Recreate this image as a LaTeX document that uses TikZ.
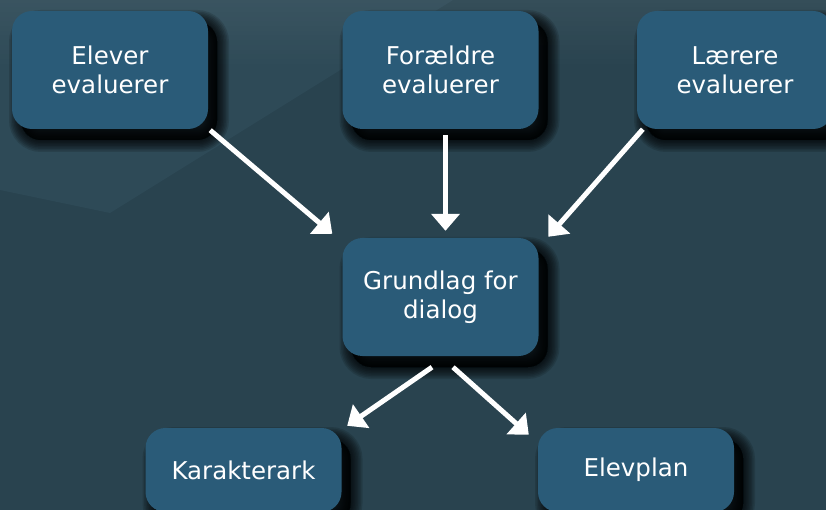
\documentclass[tikz,border=0pt]{standalone}
\usepackage{fontspec}
\setmainfont{DejaVu Sans}
\usetikzlibrary{arrows.meta,fadings}
\definecolor{bg}{HTML}{29434F}
\definecolor{bglight}{HTML}{2E4A57}
\definecolor{boxfill}{HTML}{2A5B78}
\begin{document}
\begin{tikzpicture}[x=1pt,y=-1pt,
  shadowlayer/.style={preaction={draw=black, fill=black, draw opacity=0.13, fill opacity=0.13,
      line width=#1, transform canvas={xshift=9pt,yshift=-11pt}}},
  box/.style={fill=boxfill, rounded corners=20pt, minimum width=196pt, minimum height=118pt,
    align=center, text=white, inner sep=0pt, font=\fontsize{24.5}{29.5}\selectfont,
    shadowlayer=24pt, shadowlayer=21pt, shadowlayer=18pt, shadowlayer=15pt,
    shadowlayer=12pt, shadowlayer=9pt, shadowlayer=6pt, shadowlayer=3pt, shadowlayer=0.1pt},
  arr/.style={draw=white, line width=5pt, -{Triangle[length=17pt,width=28pt]}}]
\useasboundingbox (0,0) rectangle (826,510);
\clip (0,0) rectangle (826,510);
% background
\fill[bg] (0,0) rectangle (826,510);
\fill[bglight] (0,0) -- (453,0) -- (110,213) -- (0,190) -- cycle;
\fill[white, opacity=0.06, path fading=south] (0,0) rectangle (826,70);
% boxes
\node[box] (e) at (110,70) {Elever\\evaluerer};
\node[box] (f) at (440.5,70) {Forældre\\evaluerer};
\node[box] (l) at (735,70) {Lærere\\evaluerer};
\node[box] (g) at (440.5,297) {Grundlag for\\dialog};
\node[box, minimum height=84pt] (k) at (243.5,470) {Karakterark};
\node[box, minimum height=84pt] (p) at (636,470) {Elevplan};
% arrows
\draw[arr] ([shift={(2,1)}]e.south east) -- ([shift={(-10,-4)}]g.north west);
\draw[arr] ([shift={(5,6)}]f.south) -- ([shift={(5,-7)}]g.north);
\draw[arr] ([shift={(6,0)}]l.south west) -- ([shift={(9.5,-1)}]g.north east);
\draw[arr] ([shift={(-8.5,11)}]g.south) -- ([shift={(5.5,-2)}]k.north east);
\draw[arr] ([shift={(12.5,11)}]g.south) -- ([shift={(-9,7)}]p.north west);
\end{tikzpicture}
\end{document}
